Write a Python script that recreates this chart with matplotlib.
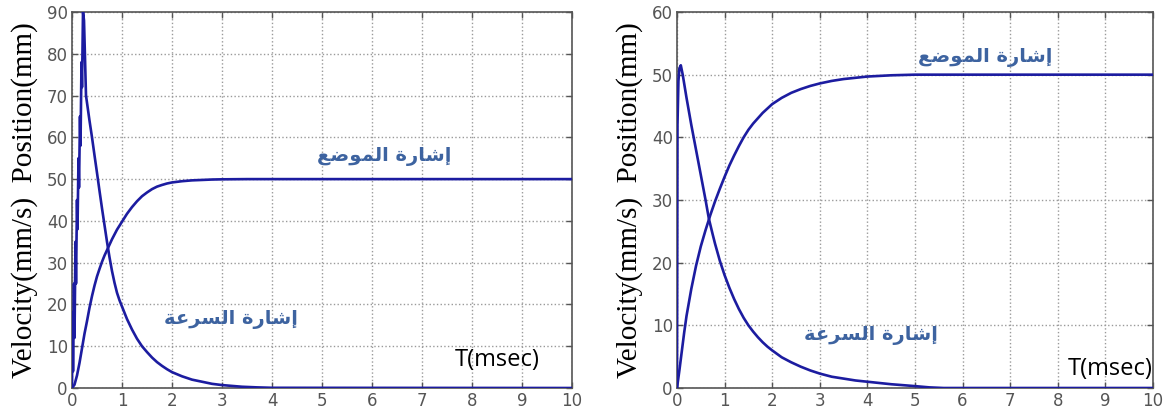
import matplotlib.pyplot as plt

# left panel (time in msec)
t_vel_a = [0, 0.01, 0.02, 0.04, 0.05, 0.07, 0.08, 0.10, 0.11, 0.13, 0.14, 0.16, 0.17,
           0.19, 0.20, 0.22, 0.24, 0.28, 0.35, 0.4, 0.45, 0.5, 0.55, 0.6, 0.65, 0.7,
           0.75, 0.8, 0.85, 0.9, 0.95, 1.0, 1.1, 1.2, 1.3, 1.4, 1.5, 1.6, 1.7, 1.8,
           1.9, 2.0, 2.2, 2.4, 2.6, 2.8, 3.0, 3.2, 3.4, 3.7, 4.0, 10]
vel_a = [0, 18, 4, 25, 12, 35, 25, 45, 38, 55, 48, 65, 58,
         78, 72, 90, 88, 70, 64, 60, 55.7, 51.5, 47.2, 43, 39, 35,
         31.3, 28, 25.2, 22.8, 21, 19.5, 16.5, 14, 11.8, 10, 8.6, 7.3, 6.2, 5.3,
         4.5, 3.8, 2.8, 2.0, 1.5, 1.0, 0.7, 0.5, 0.3, 0.15, 0.05, 0]
t_pos_a = [0, 0.05, 0.1, 0.15, 0.2, 0.25, 0.3, 0.35, 0.4, 0.45, 0.5, 0.55, 0.6,
           0.65, 0.7, 0.8, 0.9, 1.0, 1.1, 1.2, 1.3, 1.4, 1.5, 1.6, 1.7, 1.8, 1.9,
           2.0, 2.2, 2.4, 2.6, 2.8, 3.0, 3.5, 10]
pos_a = [0, 0.8, 3, 6, 9.5, 13, 16, 19.2, 22, 24.5, 26.7, 28.5, 30.2,
         31.7, 33, 35.6, 37.9, 39.8, 41.7, 43.3, 44.7, 45.9, 46.8, 47.6, 48.2, 48.6, 48.95,
         49.2, 49.5, 49.7, 49.8, 49.9, 49.95, 50, 50]

# right panel
t_vel_b = [0, 0.005, 0.01, 0.03, 0.05, 0.08, 0.12, 0.2, 0.3, 0.4, 0.5, 0.6, 0.67,
           0.75, 0.8, 0.9, 1.0, 1.1, 1.2, 1.3, 1.4, 1.5, 1.6, 1.7, 1.8, 1.9, 2.0,
           2.2, 2.4, 2.6, 2.8, 3.0, 3.25, 3.5, 3.75, 4.0, 4.25, 4.5, 4.75, 5.0, 5.3,
           5.6, 10]
vel_b = [0, 20, 42, 49, 51, 51.5, 50, 46.3, 42, 38, 34, 30, 27,
         24.5, 23, 20.3, 18, 16, 14.2, 12.6, 11.2, 10, 9, 8.1, 7.3, 6.6, 6.0,
         4.9, 4.1, 3.4, 2.8, 2.3, 1.8, 1.5, 1.2, 1.0, 0.8, 0.6, 0.45, 0.3, 0.1,
         0, 0]
t_pos_b = [0, 0.05, 0.1, 0.15, 0.2, 0.3, 0.4, 0.5, 0.6, 0.7, 0.8, 0.9, 1.0, 1.1,
           1.2, 1.3, 1.4, 1.5, 1.6, 1.8, 2.0, 2.2, 2.4, 2.6, 2.8, 3.0, 3.25, 3.5,
           3.75, 4.0, 4.5, 5.0, 10]
pos_b = [0, 2.8, 5.8, 8.8, 11.5, 15.8, 19.5, 22.6, 25.2, 27.6, 29.8, 31.8, 33.7, 35.5,
         37.1, 38.6, 40, 41.2, 42.2, 43.9, 45.3, 46.3, 47.1, 47.7, 48.2, 48.6, 49, 49.3,
         49.5, 49.7, 49.9, 50, 50]

label_pos = 'إشارة الموضع'
label_vel = 'إشارة السرعة'

# matplotlib has no arabic shaping, so map letters to presentation forms
# (isolated, final, initial, medial); two entries = joins only to the right
FORMS = {
    'ا': ('\ufe8d', '\ufe8e'), 'إ': ('\ufe87', '\ufe88'),
    'ر': ('\ufead', '\ufeae'), 'ة': ('\ufe93', '\ufe94'),
    'و': ('\ufeed', '\ufeee'),
    'ش': ('\ufeb5', '\ufeb6', '\ufeb7', '\ufeb8'),
    'س': ('\ufeb1', '\ufeb2', '\ufeb3', '\ufeb4'),
    'ل': ('\ufedd', '\ufede', '\ufedf', '\ufee0'),
    'م': ('\ufee1', '\ufee2', '\ufee3', '\ufee4'),
    'ض': ('\ufebd', '\ufebe', '\ufebf', '\ufec0'),
    'ع': ('\ufec9', '\ufeca', '\ufecb', '\ufecc'),
}


def shape(text):
    out = []
    for i, ch in enumerate(text):
        f = FORMS.get(ch)
        if f is None:
            out.append(ch)
            continue
        prev = text[i - 1] if i > 0 else ''
        nxt = text[i + 1] if i + 1 < len(text) else ''
        jp = prev in FORMS and len(FORMS[prev]) == 4
        jn = len(f) == 4 and nxt in FORMS
        out.append(f[3 if jp and jn else 1 if jp else 2 if jn else 0])
    return ''.join(out[::-1])


LINE = '#1c1ca0'
TXT = '#3d63a0'

fig = plt.figure(figsize=(11.65, 4.12), dpi=100)
ax1 = fig.add_axes([72 / 1165, 24 / 412, 500 / 1165, 376 / 412])
ax2 = fig.add_axes([677 / 1165, 24 / 412, 476 / 1165, 376 / 412])

panels = [
    (ax1, t_vel_a, vel_a, t_pos_a, pos_a, 90, (6.24, 55.4), (3.17, 16.3), (8.5, 6.7)),
    (ax2, t_vel_b, vel_b, t_pos_b, pos_b, 60, (6.47, 52.7), (4.07, 8.3), (9.1, 3.1)),
]
for ax, tv, v, tp, p, ymax, xy_pos, xy_vel, xy_t in panels:
    ax.plot(tv, v, color=LINE, lw=1.9, zorder=3)
    ax.plot(tp, p, color=LINE, lw=1.9, zorder=3)
    ax.set_xlim(0, 10)
    ax.set_ylim(0, ymax)
    ax.set_xticks(range(0, 11))
    ax.set_yticks(range(0, ymax + 1, 10))
    ax.grid(True, color='#9a9a9a', linestyle=':', linewidth=1.0)
    ax.set_axisbelow(True)
    ax.tick_params(direction='in', top=True, right=True, length=4, width=1,
                   colors='#555555', labelsize=12, pad=3)
    for s in ax.spines.values():
        s.set_color('#555555')
        s.set_linewidth(1.2)
    ax.set_ylabel('Velocity(mm/s)  Position(mm)', family='Liberation Serif',
                  fontsize=21, color='black', labelpad=6)
    ax.text(*xy_pos, shape(label_pos), color=TXT, fontsize=14, fontweight='bold',
            family='DejaVu Sans', ha='center', va='center')
    ax.text(*xy_vel, shape(label_vel), color=TXT, fontsize=14, fontweight='bold',
            family='DejaVu Sans', ha='center', va='center')
    ax.text(*xy_t, 'T(msec)', color='black', fontsize=17, family='Open Sans',
            ha='center', va='center', clip_on=False)

fig.savefig('out.png', dpi=100)
